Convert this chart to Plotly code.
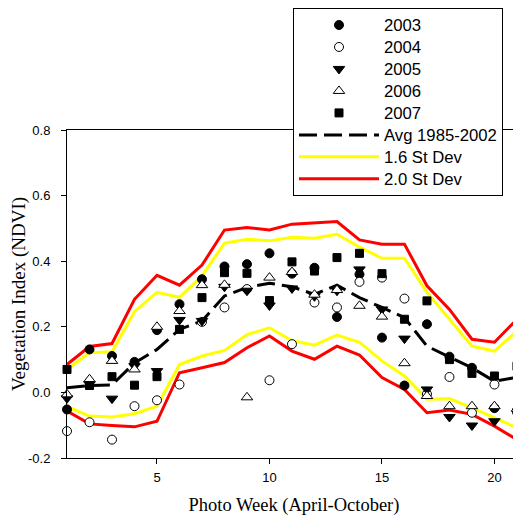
import plotly.graph_objects as go

weeks = list(range(1, 22))

avg_1985_2002 = [0.014, 0.021, 0.023, 0.090, 0.131, 0.192, 0.218, 0.294, 0.320, 0.333, 0.322,
                 0.299, 0.327, 0.289, 0.259, 0.228, 0.141, 0.109, 0.075, 0.034, 0.046]
upper_16 = [0.070, 0.121, 0.124, 0.246, 0.305, 0.290, 0.355, 0.455, 0.467, 0.462, 0.473,
            0.470, 0.482, 0.443, 0.409, 0.409, 0.305, 0.223, 0.141, 0.126, 0.187]
lower_16 = [-0.043, -0.072, -0.075, -0.065, -0.042, 0.085, 0.111, 0.128, 0.176, 0.197, 0.158,
            0.144, 0.175, 0.153, 0.096, 0.050, -0.021, -0.019, -0.047, -0.077, -0.108]
upper_20 = [0.085, 0.140, 0.149, 0.284, 0.357, 0.327, 0.388, 0.495, 0.503, 0.495, 0.513,
            0.518, 0.521, 0.465, 0.452, 0.452, 0.325, 0.253, 0.162, 0.153, 0.223]
lower_20 = [-0.057, -0.096, -0.101, -0.105, -0.088, 0.060, 0.075, 0.091, 0.136, 0.172, 0.126,
            0.101, 0.141, 0.114, 0.045, 0.009, -0.062, -0.054, -0.067, -0.103, -0.144]

y2003 = [-0.052, 0.131, 0.111, 0.093, 0.190, 0.269, 0.345, 0.384, 0.391, 0.424, 0.362,
         0.380, 0.230, 0.360, 0.167, 0.021, 0.208, 0.109, 0.075, -0.048, -0.055]
y2004 = [-0.118, -0.091, -0.144, -0.042, -0.024, 0.024, 0.215, 0.259, 0.315, 0.037, 0.147,
         0.274, 0.259, 0.337, 0.350, 0.286, -0.005, 0.047, -0.062, 0.024, -0.060]
y2005 = [-0.018, 0.025, -0.019, 0.080, 0.065, 0.221, 0.218, 0.322, 0.310, 0.265, 0.317,
         0.293, 0.310, 0.375, 0.253, 0.164, 0.009, -0.075, -0.101, -0.088, None]
y2006 = [-0.006, 0.040, 0.096, 0.070, 0.200, 0.248, 0.327, 0.328, -0.015, 0.350, 0.367,
         0.298, 0.312, 0.264, 0.231, 0.089, -0.011, -0.042, -0.042, -0.042, -0.050]
y2007 = [0.070, 0.021, 0.048, 0.022, 0.048, 0.192, 0.289, 0.365, 0.363, 0.280, 0.398,
         0.370, 0.411, 0.424, 0.362, 0.223, 0.279, 0.100, 0.058, 0.050, 0.080]

x_tick_vals = [5, 10, 15, 20]
y_tick_vals = [-0.2, 0.0, 0.2, 0.4, 0.6, 0.8]
y_tick_text = ["-0.2", "0.0", "0.2", "0.4", "0.6", "0.8"]

LEG = "<span style='font-size:16.7px'>%s</span>"

fig = go.Figure()

# reference lines
fig.add_trace(go.Scatter(x=weeks, y=avg_1985_2002, mode="lines", name=LEG % "Avg 1985-2002",
                         line=dict(color="black", width=3, dash="18px,7px"),
                         legendrank=6, cliponaxis=False))
fig.add_trace(go.Scatter(x=weeks, y=upper_16, mode="lines", name=LEG % "1.6 St Dev",
                         line=dict(color="#FFFF00", width=3), legendgroup="sd16", legendrank=7))
fig.add_trace(go.Scatter(x=weeks, y=lower_16, mode="lines", name="1.6 St Dev",
                         line=dict(color="#FFFF00", width=3), legendgroup="sd16", showlegend=False))
fig.add_trace(go.Scatter(x=weeks, y=upper_20, mode="lines", name=LEG % "2.0 St Dev",
                         line=dict(color="#FF0000", width=3), legendgroup="sd20", legendrank=8))
fig.add_trace(go.Scatter(x=weeks, y=lower_20, mode="lines", name="2.0 St Dev",
                         line=dict(color="#FF0000", width=3), legendgroup="sd20", showlegend=False))

series = [
    ("2003", y2003, "circle", "black", 9),
    ("2004", y2004, "circle", "white", 9),
    ("2005", y2005, "triangle-down", "black", 10),
    ("2006", y2006, "triangle-up", "white", 10),
    ("2007", y2007, "square", "black", 8),
]
for i, (name, ys, sym, fill, size) in enumerate(series):
    fig.add_trace(go.Scatter(x=weeks, y=ys, mode="markers", name=LEG % name,
                             marker=dict(symbol=sym, color=fill, size=size,
                                         line=dict(color="black", width=1)),
                             legendrank=i + 1, cliponaxis=False))

# the page body adds an 8px offset, so the figure is 8px smaller and shifted
fig.update_layout(
    width=513, height=514,
    margin=dict(l=59, r=0, t=122, b=64, pad=0, autoexpand=False),
    paper_bgcolor="white", plot_bgcolor="white",
    font=dict(family="Liberation Sans, Arial", color="black"),
    showlegend=True,
    legend=dict(x=(285 - 59) / 454, y=(450 - 0) / 328, xanchor="left", yanchor="top",
                bgcolor="white", bordercolor="black", borderwidth=1,
                font=dict(family="Liberation Sans, Arial", size=14.6),
                itemwidth=80, traceorder="normal", tracegroupgap=0),
    xaxis=dict(range=[1, 21.18], tickvals=x_tick_vals, ticks="outside", ticklen=5,
               tickcolor="black", showline=True, linecolor="black", linewidth=1,
               mirror=True, showgrid=False, zeroline=False, automargin=False,
               tickfont=dict(size=13, family="Liberation Sans, Arial"),
               ticklabelstandoff=2,
               title=dict(text="Photo Week (April-October)", standoff=14,
                          font=dict(family="Liberation Serif, Times New Roman", size=18.5))),
    yaxis=dict(range=[-0.2, 0.8], tickvals=y_tick_vals, ticktext=y_tick_text,
               ticks="outside", ticklen=5, tickcolor="black", showline=True,
               linecolor="black", linewidth=1, mirror=True, showgrid=False, zeroline=False,
               automargin=False,
               tickfont=dict(size=13, family="Liberation Sans, Arial"),
               ticklabelstandoff=8,
               title=dict(text="Vegetation Index (NDVI)", standoff=9,
                          font=dict(family="Liberation Serif, Times New Roman", size=19))),
)

fig.write_html("out.html")
